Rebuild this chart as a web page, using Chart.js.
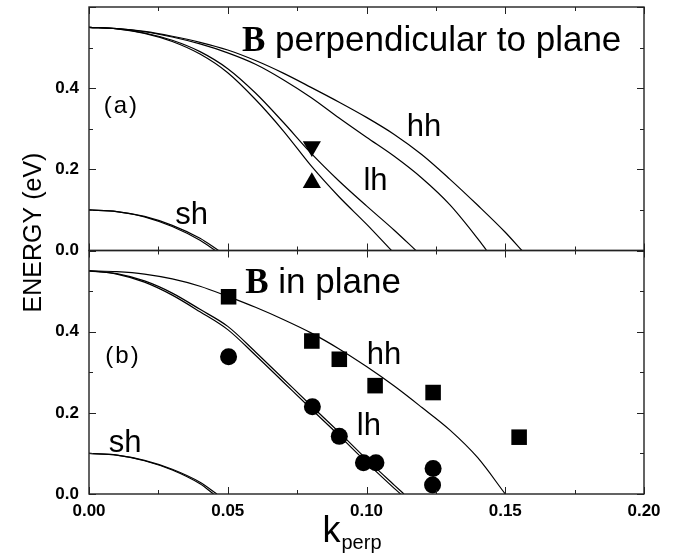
<!DOCTYPE html>
<html>
<head>
<meta charset="utf-8">
<script src="https://cdn.jsdelivr.net/npm/chart.js@4.4.1/dist/chart.umd.min.js"></script>
<style>
html,body{margin:0;padding:0;background:#fff;}
#wrap{width:679px;height:558px;position:relative;}
</style>
</head>
<body>
<div id="wrap"><canvas id="c"></canvas></div>
<script>
// ---------- DATA ----------
// x ticks (k_perp) and y ticks (energy, eV)
const xTickValues = [0, 0.05, 0.10, 0.15, 0.20];
const yTickLabels = ['0.0', '0.2', '0.4'];

// Panel (a): B perpendicular to plane
const a_hhOuter_k = [0, 0.01, 0.02, 0.03, 0.04, 0.05, 0.06, 0.07, 0.08, 0.09, 0.10, 0.11, 0.12, 0.13, 0.14, 0.15, 0.156];
const a_hhOuter_E = [0.55, 0.547, 0.540, 0.528, 0.513, 0.494, 0.468, 0.437, 0.402, 0.366, 0.328, 0.286, 0.236, 0.176, 0.112, 0.045, 0];
const a_hhInner_k = [0, 0.01, 0.02, 0.03, 0.04, 0.05, 0.06, 0.07, 0.08, 0.09, 0.10, 0.11, 0.12, 0.13, 0.14, 0.1433];
const a_hhInner_E = [0.55, 0.547, 0.539, 0.526, 0.509, 0.487, 0.459, 0.421, 0.377, 0.327, 0.279, 0.232, 0.178, 0.113, 0.030, 0];
const a_lhOuter_k = [0, 0.01, 0.02, 0.03, 0.04, 0.05, 0.06, 0.07, 0.08, 0.09, 0.10, 0.11, 0.1178];
const a_lhOuter_E = [0.55, 0.546, 0.536, 0.518, 0.490, 0.448, 0.388, 0.316, 0.240, 0.172, 0.110, 0.050, 0];
const a_lhInner_k = [0, 0.01, 0.02, 0.03, 0.04, 0.05, 0.06, 0.07, 0.08, 0.09, 0.10, 0.109];
const a_lhInner_E = [0.55, 0.546, 0.535, 0.515, 0.484, 0.438, 0.372, 0.295, 0.209, 0.133, 0.065, 0];
const a_shOuter_k = [0, 0.01, 0.02, 0.03, 0.04, 0.0467];
const a_shOuter_E = [0.10, 0.096, 0.084, 0.062, 0.030, 0];
const a_shInner_k = [0, 0.01, 0.02, 0.03, 0.04, 0.0455];
const a_shInner_E = [0.10, 0.096, 0.083, 0.059, 0.025, 0];
const a_triDown_k = [0.0803];
const a_triDown_E = [0.256];
const a_triUp_k = [0.0803];
const a_triUp_E = [0.167];

// Panel (b): B in plane
const b_hh_k = [0, 0.01, 0.02, 0.03, 0.04, 0.05, 0.06, 0.07, 0.08, 0.09, 0.10, 0.11, 0.12, 0.13, 0.14, 0.15];
const b_hh_E = [0.55, 0.548, 0.542, 0.530, 0.512, 0.487, 0.460, 0.430, 0.397, 0.358, 0.314, 0.266, 0.213, 0.158, 0.090, 0];
const b_lhOuter_k = [0, 0.01, 0.02, 0.03, 0.04, 0.05, 0.06, 0.07, 0.08, 0.09, 0.10, 0.11, 0.1135];
const b_lhOuter_E = [0.55, 0.543, 0.525, 0.495, 0.455, 0.413, 0.350, 0.284, 0.218, 0.153, 0.086, 0.022, 0];
const b_lhInner_k = [0, 0.01, 0.02, 0.03, 0.04, 0.05, 0.06, 0.07, 0.08, 0.09, 0.10, 0.11, 0.1123];
const b_lhInner_E = [0.55, 0.542, 0.522, 0.490, 0.449, 0.405, 0.342, 0.276, 0.210, 0.145, 0.078, 0.014, 0];
const b_shOuter_k = [0, 0.01, 0.02, 0.03, 0.04, 0.0461];
const b_shOuter_E = [0.10, 0.096, 0.083, 0.061, 0.029, 0];
const b_shInner_k = [0, 0.01, 0.02, 0.03, 0.04, 0.0449];
const b_shInner_E = [0.10, 0.096, 0.082, 0.059, 0.025, 0];
const b_squares_k = [0.0503, 0.0803, 0.0902, 0.1031, 0.1240, 0.1550];
const b_squares_E = [0.486, 0.377, 0.332, 0.267, 0.250, 0.140];
const b_circles_k = [0.0503, 0.0805, 0.0902, 0.0989, 0.1034, 0.1240, 0.1238];
const b_circles_E = [0.338, 0.215, 0.142, 0.077, 0.077, 0.063, 0.022];

// text labels anchored in data space (k, E) of a panel
const panelLabels = [
  {axis: 'yA', k: 0.0551, E: 0.491, parts: [['B', 'bold 35px "Liberation Serif"'], [' perpendicular to plane', '35px "Liberation Sans"']]},
  {axis: 'yA', k: 0.0053, E: 0.339, parts: [['(a)', '24px "Liberation Sans"']], spacing: '2px'},
  {axis: 'yA', k: 0.1145, E: 0.2815, parts: [['hh', '31px "Liberation Sans"']]},
  {axis: 'yA', k: 0.0989, E: 0.149, parts: [['lh', '31px "Liberation Sans"']]},
  {axis: 'yA', k: 0.0311, E: 0.066, parts: [['sh', '31px "Liberation Sans"']]},
  {axis: 'yB', k: 0.0563, E: 0.495, parts: [['B', 'bold 35px "Liberation Serif"'], [' in plane', '35px "Liberation Sans"']]},
  {axis: 'yB', k: 0.0059, E: 0.323, parts: [['(b)', '24px "Liberation Sans"']], spacing: '2px'},
  {axis: 'yB', k: 0.1001, E: 0.320, parts: [['hh', '31px "Liberation Sans"']]},
  {axis: 'yB', k: 0.0965, E: 0.1444, parts: [['lh', '31px "Liberation Sans"']]},
  {axis: 'yB', k: 0.0071, E: 0.1035, parts: [['sh', '31px "Liberation Sans"']]}
];

// ---------- BUILD ----------
const pts = (ks, es) => ks.map((k, i) => ({x: k, y: es[i]}));
function curve(ks, es, axis) {
  return {type: 'scatter', data: pts(ks, es), yAxisID: axis, showLine: true,
    borderColor: '#000', borderWidth: 1.2, pointRadius: 0, pointHoverRadius: 0,
    cubicInterpolationMode: 'monotone', fill: false};
}
function marks(ks, es, axis, style, r, rot) {
  return {type: 'scatter', data: pts(ks, es), yAxisID: axis, showLine: false,
    pointStyle: style, pointRadius: r, pointHoverRadius: r, rotation: rot || 0,
    backgroundColor: '#000', borderColor: '#000', borderWidth: 0, clip: false};
}

const tickFont = {family: '"Liberation Sans", Arial, sans-serif', size: 17, weight: 'bold'};
const CHART_LEFT = 89, CHART_BOTTOM = 494, H = 558;

function yScale() {
  return {
    type: 'linear', position: 'left', stack: 'energy', stackWeight: 1,
    min: 0, max: 0.6,
    ticks: {
      stepSize: 0.2, color: '#000', font: tickFont, padding: 10,
      callback: (v) => { const s = (Math.round(v * 10) / 10).toFixed(1); return yTickLabels.includes(s) ? s : ''; }
    },
    grid: {display: false, drawTicks: false},
    border: {display: false},
    afterFit: (s) => { s.width = CHART_LEFT; s.paddingTop = 0; s.paddingBottom = 0; }
  };
}

const framePlugin = {
  id: 'frame',
  afterDatasetsDraw(chart) {
    const ctx = chart.ctx, xs = chart.scales.x;
    ctx.save();
    ['yA', 'yB'].forEach(id => {
      const ys = chart.scales[id];
      const L = xs.left, R = xs.right, T = ys.top, B = ys.bottom;
      ctx.strokeStyle = '#222';
      ctx.lineWidth = 1.4;
      ctx.strokeRect(L, T, R - L, B - T);
      ctx.lineWidth = 1;
      // x ticks (major at scale ticks, minor halfway)
      const xv = xs.ticks.map(t => t.value);
      const xTicks = [];
      xv.forEach((v, i) => { xTicks.push([v, 7]); if (i < xv.length - 1) xTicks.push([(v + xv[i + 1]) / 2, 4]); });
      xTicks.forEach(([v, len]) => {
        const px = Math.round(xs.getPixelForValue(v)) + 0.5;
        ctx.beginPath();
        ctx.moveTo(px, B); ctx.lineTo(px, B - len);
        ctx.moveTo(px, T); ctx.lineTo(px, T + len);
        ctx.stroke();
      });
      const yv = ys.ticks.map(t => t.value);
      const yTicks = [];
      yv.forEach((v, i) => { yTicks.push([v, 7]); if (i < yv.length - 1) yTicks.push([(v + yv[i + 1]) / 2, 4]); });
      yTicks.forEach(([v, len]) => {
        const py = Math.round(ys.getPixelForValue(v)) + 0.5;
        ctx.beginPath();
        ctx.moveTo(L, py); ctx.lineTo(L + len, py);
        ctx.moveTo(R, py); ctx.lineTo(R - len, py);
        ctx.stroke();
      });
    });
    ctx.restore();
  },
  afterDraw(chart) {
    const ctx = chart.ctx, xs = chart.scales.x;
    ctx.save();
    ctx.fillStyle = '#000';
    ctx.textBaseline = 'alphabetic';
    ctx.textAlign = 'left';
    panelLabels.forEach(lb => {
      const ys = chart.scales[lb.axis];
      let x = xs.getPixelForValue(lb.k);
      const y = ys.getPixelForValue(lb.E);
      ctx.letterSpacing = lb.spacing || '0px';
      lb.parts.forEach(([t, f]) => {
        ctx.font = f;
        ctx.fillText(t, x, y);
        x += ctx.measureText(t).width;
      });
    });
    ctx.letterSpacing = '0px';
    // y-axis title, centred on the two stacked panels
    const yA = chart.scales.yA, yB = chart.scales.yB;
    ctx.save();
    ctx.translate(41, (yA.top + yB.bottom) / 2 - 18);
    ctx.rotate(-Math.PI / 2);
    ctx.textAlign = 'center';
    ctx.font = '25px "Liberation Sans"';
    ctx.fillText('ENERGY (eV)', 0, 0);
    ctx.restore();
    // x-axis title k_perp
    const cx = (xs.left + xs.right) / 2 - 44;
    ctx.font = '36px "Liberation Sans"';
    ctx.fillText('k', cx, 542);
    const kw = ctx.measureText('k').width;
    ctx.font = '20px "Liberation Sans"';
    ctx.fillText('perp', cx + kw + 1, 549);
    ctx.restore();
  }
};

const datasets = [
  curve(a_hhOuter_k, a_hhOuter_E, 'yA'),
  curve(a_hhInner_k, a_hhInner_E, 'yA'),
  curve(a_lhOuter_k, a_lhOuter_E, 'yA'),
  curve(a_lhInner_k, a_lhInner_E, 'yA'),
  curve(a_shOuter_k, a_shOuter_E, 'yA'),
  curve(a_shInner_k, a_shInner_E, 'yA'),
  marks(a_triDown_k, a_triDown_E, 'yA', 'triangle', 10.5, 180),
  marks(a_triUp_k, a_triUp_E, 'yA', 'triangle', 10.5, 0),
  curve(b_hh_k, b_hh_E, 'yB'),
  curve(b_lhOuter_k, b_lhOuter_E, 'yB'),
  curve(b_lhInner_k, b_lhInner_E, 'yB'),
  curve(b_shOuter_k, b_shOuter_E, 'yB'),
  curve(b_shInner_k, b_shInner_E, 'yB'),
  marks(b_squares_k, b_squares_E, 'yB', 'rect', 11, 0),
  marks(b_circles_k, b_circles_E, 'yB', 'circle', 8.5, 0)
];

new Chart(document.getElementById('c'), {
  type: 'scatter',
  data: {datasets},
  options: {
    responsive: true,
    maintainAspectRatio: false,
    animation: false,
    layout: {autoPadding: false, padding: {top: 7, right: 35, left: 0, bottom: 0}},
    plugins: {legend: {display: false}, tooltip: {enabled: false}},
    events: [],
    scales: {
      x: {
        type: 'linear', position: 'bottom', min: 0, max: 0.2,
        afterBuildTicks: (s) => { s.ticks = xTickValues.map(v => ({value: v})); },
        ticks: {color: '#000', font: tickFont, padding: 7, maxRotation: 0, autoSkip: false,
          callback: (v) => Number(v).toFixed(2)},
        grid: {display: false, drawTicks: false},
        border: {display: false},
        afterFit: (s) => { s.height = H - CHART_BOTTOM; }
      },
      yB: yScale(),
      yA: yScale()
    }
  },
  plugins: [framePlugin]
});
</script>
</body>
</html>
